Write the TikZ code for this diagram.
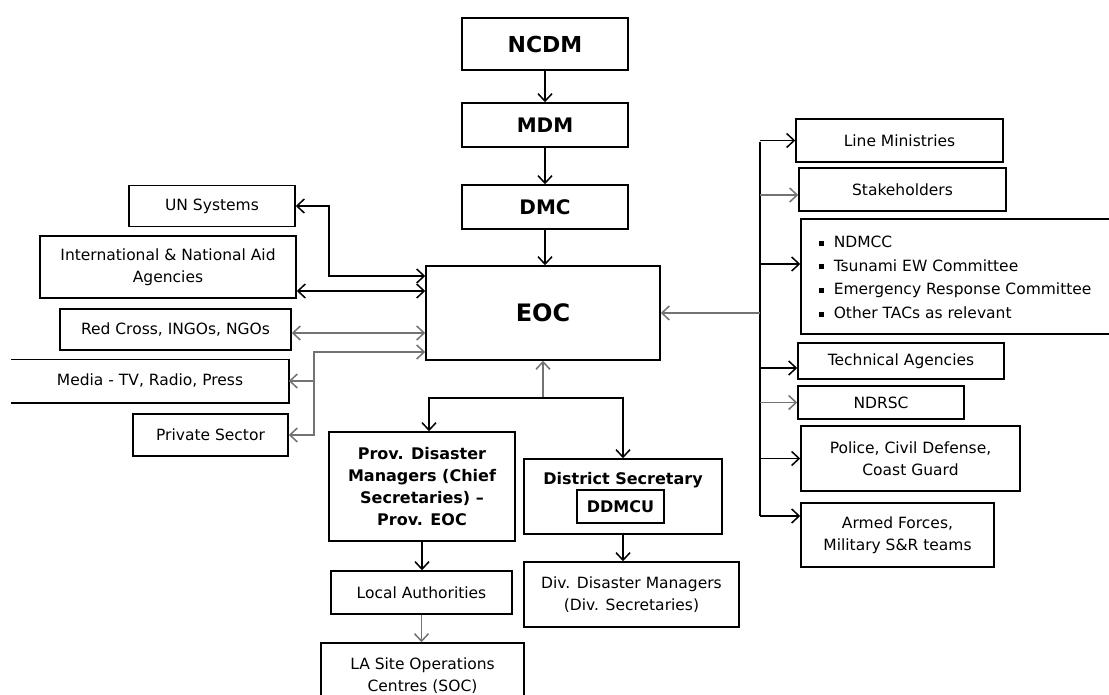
\documentclass[tikz,border=0pt]{standalone}
\usepackage{fontspec}
\setmainfont{DejaVu Sans}
\usetikzlibrary{arrows.meta}
\begin{document}
\begin{tikzpicture}[x=1pt,y=-1pt,
  >={Straight Barb[length=7.5pt,width=14pt]},
  every path/.style={line width=1.5pt},
  box/.style={draw, rectangle, inner sep=0pt, align=center,
    font=\fontsize{15.5}{22}\selectfont},
  bbox/.style={box, font=\fontsize{16}{21.7}\selectfont\bfseries},
  soft/.style={draw=black!55}
]
\useasboundingbox (0,0) rectangle (1109,695);

% ---- command chain ----
\node[box, font=\fontsize{22}{26}\selectfont\bfseries, minimum width=166pt, minimum height=52pt] (ncdm) at (545,44) {NCDM};
\node[box, font=\fontsize{20}{24}\selectfont\bfseries, minimum width=166pt, minimum height=44pt] (mdm) at (545,125) {MDM};
\node[box, font=\fontsize{20}{24}\selectfont\bfseries, minimum width=166pt, minimum height=44pt] (dmc) at (545,207) {DMC};
\node[box, font=\fontsize{24}{28}\selectfont\bfseries, minimum width=234pt, minimum height=94pt] (eoc) at (543,313) {EOC};

\draw[->] (ncdm.south) -- (mdm.north);
\draw[->] (mdm.south) -- (dmc.north);
\draw[->] (dmc.south) -- (dmc.south |- eoc.north);

% ---- external partners (left) ----
\node[box, minimum width=166pt, minimum height=41pt] (un) at (212,206) {UN Systems};
\node[box, minimum width=256pt, minimum height=62pt] (aid) at (168,267) {International \& National Aid\\Agencies};
\node[box, minimum width=231pt, minimum height=41pt] (red) at (175.5,329.5) {Red Cross, INGOs, NGOs};
\node[box, draw=none, minimum width=276pt, minimum height=42pt] (media) at (150,381) {Media - TV, Radio, Press};
\draw (media.north west) -- (media.north east) -- (media.south east) -- (media.south west);
\node[box, minimum width=155pt, minimum height=42pt] (priv) at (210.5,435) {Private Sector};

\coordinate (eA) at (eoc.west |- 0,276);
\coordinate (eB) at (eoc.west |- 0,291);
\coordinate (eC) at (eoc.west |- 0,333);
\coordinate (eD) at (eoc.west |- 0,352);
\coordinate (bUN) at (329,276);
\coordinate (bM) at (314,352);

\draw[<->] (un.east) -| (bUN) -- (eA);
\draw[<->] (aid.east |- eB) -- (eB);
\draw[<->, soft] (red.east |- eC) -- (eC);
\draw[<->, soft] (priv.east) -| (bM) -- (eD);
\draw[->, soft] (bM |- media.east) -- (media.east);

% ---- technical and support bodies (right) ----
\node[box, minimum width=207pt, minimum height=43pt] (line) at (899.5,140.5) {Line Ministries};
\node[box, minimum width=207pt, minimum height=43pt] (stake) at (902.5,189.5) {Stakeholders};
\node[box, minimum width=314pt, minimum height=115pt] (list) at (958,276.5) {};
\node[anchor=west, align=left, inner sep=0pt, font=\fontsize{15.5}{23.7}\selectfont] (listtxt) at (818,277.5)
  {\makebox[15pt][l]{\rule[2pt]{5pt}{5pt}}NDMCC\\
   \makebox[15pt][l]{\rule[2pt]{5pt}{5pt}}Tsunami EW Committee\\
   \makebox[15pt][l]{\rule[2pt]{5pt}{5pt}}Emergency Response Committee\\
   \makebox[15pt][l]{\rule[2pt]{5pt}{5pt}}Other TACs as relevant};
\node[box, minimum width=206pt, minimum height=36pt] (tech) at (901,361) {Technical Agencies};
\node[box, minimum width=166pt, minimum height=33pt] (ndrsc) at (881,402.5) {NDRSC};
\node[box, minimum width=219pt, minimum height=65pt] (police) at (910.5,458.5) {Police, Civil Defense,\\Coast Guard};
\node[box, minimum width=193pt, minimum height=64pt] (armed) at (897.5,535) {Armed Forces,\\Military S\&R teams};

\coordinate (busTop) at (760,142);
\coordinate (busBot) at (760,516);
\draw (busTop) -- (busBot);
\draw[->, soft] (busTop |- eoc.east) -- (eoc.east);
\draw[->] (busTop |- line.west) -- (line.west);
\draw[->, soft] (busTop |- 0,195) -- ([yshift=-5.5pt]stake.west);
\draw[->] (busTop |- 0,264) -- ([yshift=12.5pt]list.west);
\draw[->] (busTop |- 0,368) -- ([yshift=-7pt]tech.west);
\draw[->, soft] (busTop |- ndrsc.west) -- (ndrsc.west);
\draw[->] (busTop |- police.west) -- (police.west);
\draw[->] (busBot) -- ([yshift=19pt]armed.west);

% ---- sub-national structure (bottom) ----
\node[bbox, minimum width=186pt, minimum height=109pt] (prov) at (422,486.5) {Prov. Disaster\\Managers (Chief\\Secretaries) --\\Prov. EOC};
\node[box, minimum width=198pt, minimum height=75pt] (dist) at (623,496.5) {};
\node[inner sep=0pt, font=\fontsize{16}{20}\selectfont\bfseries] (disttxt) at (623,480) {District Secretary};
\node[bbox, minimum width=87pt, minimum height=33pt] (ddmcu) at (620.5,506.5) {DDMCU};
\node[box, minimum width=181pt, minimum height=43pt] (local) at (421.5,592.5) {Local Authorities};
\node[box, minimum width=203pt, minimum height=66pt] (lasite) at (422.5,676) {LA Site Operations\\Centres (SOC)};
\node[box, minimum width=215pt, minimum height=65pt] (div) at (631.5,594.5) {Div. Disaster Managers\\(Div. Secretaries)};

\coordinate (hub) at (eoc.south |- 0,398);
\draw[->, soft] (hub) -- (eoc.south);
\draw[->] (hub) -| ([xshift=7pt]prov.north);
\draw[->] (hub) -| (dist.north);
\draw[->] (prov.south) -- (prov.south |- local.north);
\draw[->, soft] (local.south) -- (local.south |- lasite.north);
\draw[->] (dist.south) -- (dist.south |- div.north);
\end{tikzpicture}
\end{document}
